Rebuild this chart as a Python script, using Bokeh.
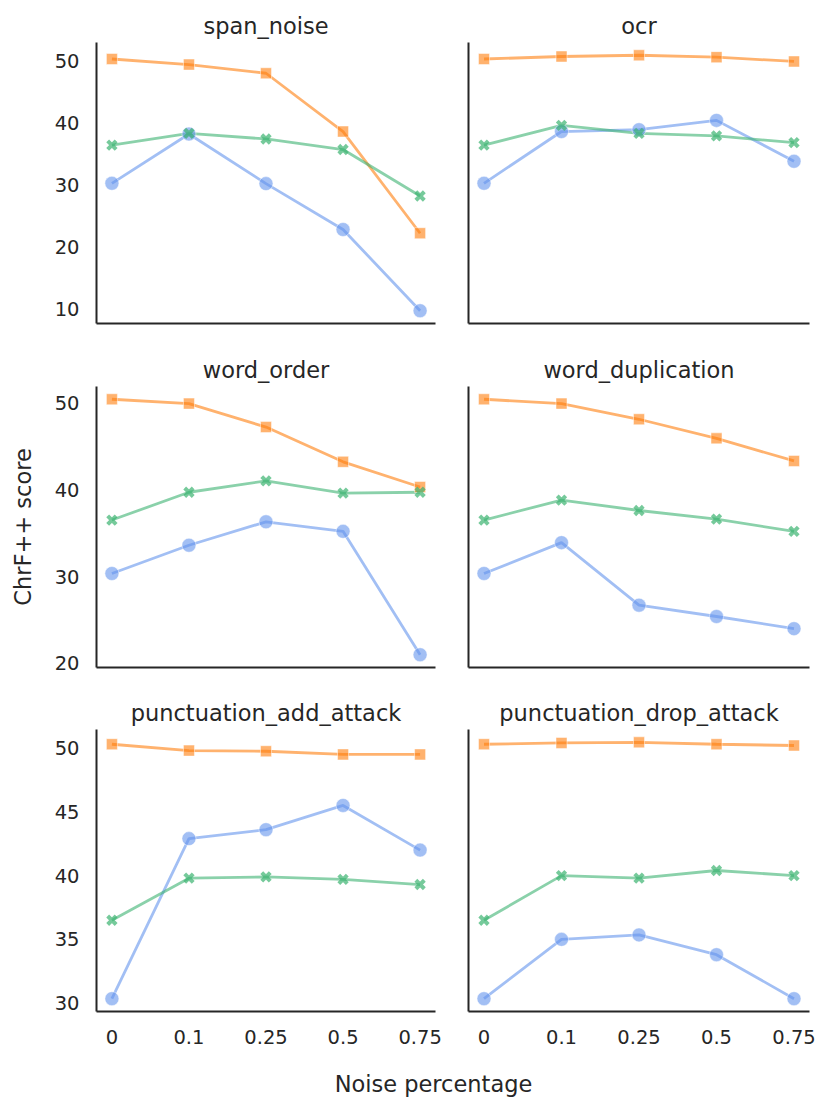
from bokeh.plotting import figure
from bokeh.models import Range1d, FixedTicker, Label
from bokeh.layouts import gridplot, column
from bokeh.embed import file_html
from bokeh.resources import INLINE

x_labels = ["0", "0.1", "0.25", "0.5", "0.75"]
panels = ["span_noise", "ocr", "word_order", "word_duplication",
          "punctuation_add_attack", "punctuation_drop_attack"]

blue_vals = {
    "span_noise": [30.35, 38.3, 30.3, 22.9, 9.8],
    "ocr": [30.35, 38.7, 39.0, 40.5, 33.9],
    "word_order": [30.35, 33.6, 36.3, 35.2, 21.0],
    "word_duplication": [30.35, 33.9, 26.7, 25.4, 24.0],
    "punctuation_add_attack": [30.35, 42.9, 43.6, 45.5, 42.0],
    "punctuation_drop_attack": [30.35, 35.0, 35.35, 33.8, 30.35],
}
orange_vals = {
    "span_noise": [50.4, 49.5, 48.1, 38.7, 22.3],
    "ocr": [50.4, 50.8, 51.0, 50.7, 50.0],
    "word_order": [50.4, 49.9, 47.2, 43.2, 40.3],
    "word_duplication": [50.4, 49.9, 48.1, 45.9, 43.3],
    "punctuation_add_attack": [50.3, 49.8, 49.75, 49.5, 49.5],
    "punctuation_drop_attack": [50.3, 50.4, 50.45, 50.3, 50.2],
}
green_vals = {
    "span_noise": [36.5, 38.4, 37.5, 35.8, 28.3],
    "ocr": [36.5, 39.7, 38.4, 38.0, 36.9],
    "word_order": [36.5, 39.7, 41.0, 39.6, 39.7],
    "word_duplication": [36.5, 38.8, 37.6, 36.6, 35.2],
    "punctuation_add_attack": [36.5, 39.8, 39.9, 39.7, 39.3],
    "punctuation_drop_attack": [36.5, 40.0, 39.8, 40.4, 40.0],
}
row_ticks = [[10, 20, 30, 40, 50], [20, 30, 40, 50], [30, 35, 40, 45, 50]]

BLUE = "#6495ED"
ORANGE = "#FF7F0E"
GREEN = "#3CB371"
TXT = "#262626"
FONT = "DejaVu Sans"
ALPHA = 0.6

xs = list(range(len(x_labels)))

# shared y range per row, 5% padding like matplotlib
row_ranges = []
for r in range(3):
    vals = []
    for name in panels[2 * r:2 * r + 2]:
        vals += blue_vals[name] + orange_vals[name] + green_vals[name]
    lo, hi = min(vals), max(vals)
    pad = 0.05 * (hi - lo)
    row_ranges.append(Range1d(lo - pad, hi + pad))

frame_h = [281, 281, 282]
tops = [42, 51, 50]
bottoms = [12, 12, 46]

figs = []
for i, name in enumerate(panels):
    r, c = divmod(i, 2)
    left = c == 0
    w = 451 if left else 368
    h = tops[r] + frame_h[r] + bottoms[r]
    p = figure(width=w, height=h, x_range=Range1d(-0.2, 4.2), y_range=row_ranges[r],
               output_backend="svg", toolbar_location=None,
               min_border_left=96 if left else 17, min_border_right=16 if left else 10,
               min_border_top=tops[r], min_border_bottom=bottoms[r])
    p.outline_line_color = None
    p.grid.visible = False
    p.background_fill_color = "white"
    p.border_fill_color = "white"

    p.title.text = name
    p.title.align = "center"
    p.title.text_font = FONT
    p.title.text_font_size = "22.5px"
    p.title.text_font_style = "normal"
    p.title.text_color = TXT
    p.title.standoff = 8

    for ax in (p.xaxis[0], p.yaxis[0]):
        ax.axis_line_color = TXT
        ax.axis_line_width = 2
        ax.major_tick_line_color = None
        ax.minor_tick_line_color = None
        ax.major_tick_out = 0
        ax.major_tick_in = 0
        ax.minor_tick_out = 0
        ax.major_label_text_font = FONT
        ax.major_label_text_font_size = "19.5px"
        ax.major_label_text_color = TXT
        ax.axis_label_text_font = FONT
        ax.axis_label_text_font_size = "22.5px"
        ax.axis_label_text_font_style = "normal"
        ax.axis_label_text_color = TXT

    if r == 2:
        p.xaxis.ticker = FixedTicker(ticks=xs)
        p.xaxis.major_label_overrides = {k: v for k, v in zip(xs, x_labels)}
        p.xaxis.major_label_standoff = 18
    else:
        p.xaxis.ticker = FixedTicker(ticks=[])
    if left:
        p.yaxis.ticker = FixedTicker(ticks=row_ticks[r])
        p.yaxis.major_label_standoff = 17
        if r == 1:
            p.yaxis.axis_label = "ChrF++ score"
            p.yaxis.axis_label_standoff = 16
    else:
        p.yaxis.ticker = FixedTicker(ticks=[])

    for vals, color in ((blue_vals[name], BLUE), (orange_vals[name], ORANGE), (green_vals[name], GREEN)):
        p.line(xs, vals, line_color=color, line_width=2.8, line_alpha=ALPHA)
    p.scatter(xs, blue_vals[name], marker="circle", size=14, fill_color=BLUE,
              fill_alpha=ALPHA, line_color="white", line_alpha=ALPHA, line_width=0.8)
    p.scatter(xs, orange_vals[name], marker="square", size=11, fill_color=ORANGE,
              fill_alpha=ALPHA, line_color="white", line_alpha=ALPHA, line_width=0.8)
    p.scatter(xs, green_vals[name], marker="x", size=12, line_color=GREEN,
              line_alpha=ALPHA + 0.1, line_width=4)
    figs.append(p)

grid = gridplot([[figs[0], figs[1]], [figs[2], figs[3]], [figs[4], figs[5]]],
                toolbar_location=None)

lab = figure(width=819, height=42, x_range=Range1d(0, 1), y_range=Range1d(0, 1),
             output_backend="svg", toolbar_location=None, min_border=0,
             x_axis_type=None, y_axis_type=None)
lab.outline_line_color = None
lab.grid.visible = False
lab.add_layout(Label(x=433, y=16, x_units="screen", y_units="screen", text="Noise percentage",
                     text_align="center", text_baseline="alphabetic", text_font=FONT,
                     text_font_size="22.5px", text_color=TXT))

layout = column(grid, lab)
open("out.html", "w").write(file_html(layout, INLINE))
